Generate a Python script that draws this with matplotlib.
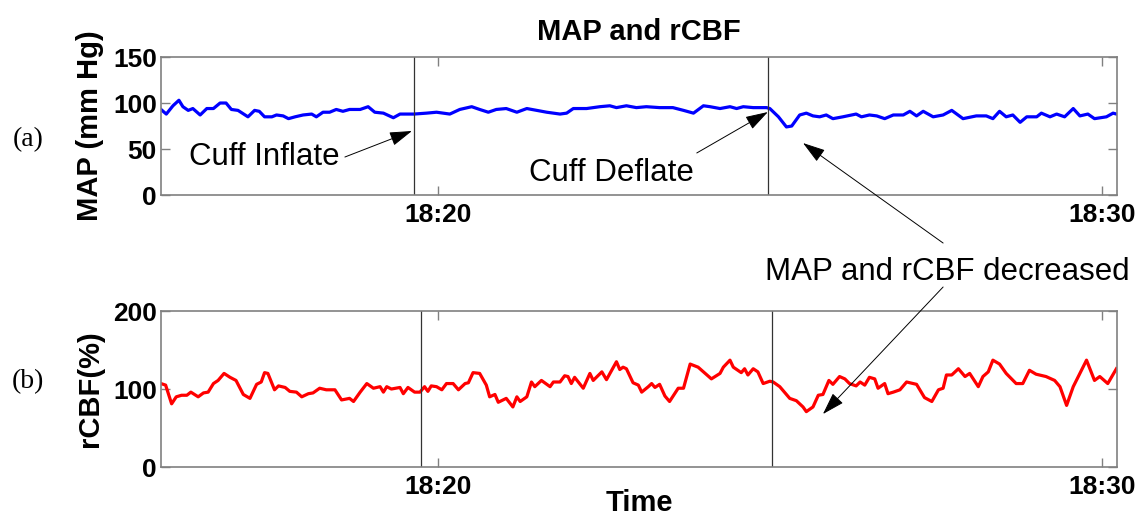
import matplotlib
matplotlib.use("Agg")
import matplotlib.pyplot as plt

# time axis in minutes after 18:00
map_time = [15.83, 15.91, 16.01, 16.10, 16.16, 16.24, 16.31, 16.42, 16.52, 16.62,
            16.72, 16.81, 16.89, 16.99, 17.14, 17.24, 17.31, 17.39, 17.50, 17.57,
            17.67, 17.75, 17.85, 17.97, 18.10, 18.17, 18.27, 18.37, 18.47, 18.57,
            18.67, 18.83, 18.95, 19.05, 19.18, 19.33, 19.43, 19.64, 19.83, 19.98,
            20.18, 20.33, 20.51, 20.63, 20.76, 20.88, 21.03, 21.19, 21.34, 21.49,
            21.64, 21.84, 21.94, 22.04, 22.24, 22.44, 22.59, 22.69, 22.84, 22.99,
            23.14, 23.34, 23.54, 23.70, 23.85, 24.00, 24.10, 24.25, 24.40, 24.50,
            24.60, 24.75, 24.95, 25.00, 25.13, 25.25, 25.33, 25.45, 25.55, 25.65,
            25.75, 25.85, 25.95, 26.10, 26.30, 26.38, 26.50, 26.61, 26.73, 26.86,
            27.01, 27.11, 27.21, 27.31, 27.46, 27.61, 27.74, 27.91, 28.11, 28.26,
            28.36, 28.46, 28.56, 28.66, 28.77, 28.87, 29.02, 29.09, 29.22, 29.32,
            29.44, 29.57, 29.67, 29.79, 29.89, 30.07, 30.17, 30.22]
map_values = [93, 88, 97, 103, 96, 92, 94, 87, 94, 94,
              100, 100, 93, 92, 85, 92, 91, 85, 85, 87,
              86, 83, 85, 87, 88, 85, 90, 90, 93, 91,
              93, 93, 96, 90, 89, 84, 88, 88, 89, 90,
              88, 93, 96, 93, 90, 93, 94, 90, 94, 92,
              90, 88, 89, 94, 94, 96, 97, 95, 97, 95,
              96, 95, 95, 92, 89, 97, 96, 94, 96, 94,
              96, 95, 95, 94, 85, 74, 75, 87, 89, 86,
              85, 87, 83, 85, 88, 85, 87, 86, 83, 87,
              87, 91, 86, 91, 85, 87, 92, 83, 86, 86,
              83, 91, 85, 87, 79, 85, 85, 89, 85, 88,
              85, 94, 86, 88, 83, 85, 89, 88]

cbf_time = [15.83, 15.90, 15.99, 16.06, 16.14, 16.22, 16.28, 16.39, 16.47, 16.54,
            16.62, 16.69, 16.78, 16.87, 16.96, 17.07, 17.17, 17.27, 17.34, 17.39,
            17.44, 17.54, 17.60, 17.70, 17.77, 17.87, 17.95, 18.05, 18.12, 18.22,
            18.32, 18.45, 18.55, 18.67, 18.73, 18.83, 18.93, 19.03, 19.13, 19.18,
            19.23, 19.30, 19.43, 19.48, 19.55, 19.65, 19.73, 19.80, 19.85, 19.90,
            19.98, 20.06, 20.13, 20.23, 20.31, 20.41, 20.46, 20.53, 20.63, 20.73,
            20.78, 20.86, 20.91, 21.03, 21.13, 21.19, 21.24, 21.34, 21.41, 21.46,
            21.56, 21.69, 21.74, 21.84, 21.91, 21.96, 22.01, 22.06, 22.19, 22.29,
            22.34, 22.47, 22.54, 22.69, 22.74, 22.79, 22.84, 22.94, 23.02, 23.07,
            23.17, 23.22, 23.27, 23.34, 23.42, 23.49, 23.62, 23.70, 23.80, 23.92,
            24.12, 24.25, 24.30, 24.40, 24.45, 24.57, 24.62, 24.67, 24.75, 24.82,
            24.90, 25.00, 25.05, 25.15, 25.30, 25.40, 25.50, 25.55, 25.65, 25.73,
            25.80, 25.89, 25.95, 26.05, 26.13, 26.20, 26.30, 26.36, 26.43, 26.50,
            26.58, 26.63, 26.73, 26.78, 26.86, 26.96, 27.06, 27.21, 27.33, 27.44,
            27.54, 27.61, 27.66, 27.74, 27.84, 27.94, 28.01, 28.14, 28.21, 28.29,
            28.36, 28.46, 28.56, 28.71, 28.81, 28.91, 29.01, 29.16, 29.29, 29.37,
            29.47, 29.57, 29.67, 29.77, 29.89, 29.97, 30.09, 30.22]
cbf_values = [107, 105, 81, 90, 92, 92, 96, 90, 95, 96,
              107, 111, 120, 115, 111, 93, 88, 106, 109, 121,
              120, 99, 104, 102, 97, 96, 90, 94, 95, 101,
              99, 99, 86, 88, 84, 96, 107, 101, 103, 96,
              103, 100, 102, 94, 102, 96, 96, 103, 97, 104,
              103, 99, 107, 107, 99, 107, 108, 121, 120, 105,
              90, 93, 83, 88, 77, 90, 84, 90, 109, 103,
              111, 103, 109, 109, 117, 116, 107, 115, 101, 120,
              111, 122, 112, 135, 125, 128, 126, 108, 105, 96,
              103, 107, 102, 106, 91, 84, 101, 101, 132, 128,
              113, 120, 128, 137, 128, 121, 126, 118, 126, 122,
              107, 110, 109, 103, 88, 85, 77, 71, 77, 92,
              93, 111, 106, 116, 113, 107, 104, 109, 105, 115,
              113, 101, 107, 94, 96, 99, 109, 106, 89, 84,
              99, 101, 118, 118, 126, 116, 120, 103, 116, 122,
              137, 132, 120, 107, 107, 124, 119, 116, 111, 103,
              79, 103, 120, 137, 111, 116, 107, 126]

# cuff inflate / deflate markers (minutes after 18:00)
map_events = [19.64, 24.98]
cbf_events = [19.74, 25.04]

x_ticks = [20, 30]
x_tick_labels = ["18:20", "18:30"]
map_ticks = [0, 50, 100, 150]
cbf_ticks = [0, 100, 200]

plt.rcParams["font.family"] = ["Liberation Sans", "DejaVu Sans"]

fig = plt.figure(figsize=(11.45, 5.17), dpi=100)
ax1 = fig.add_axes([0.1406, 0.6228, 0.835, 0.2669])
ax2 = fig.add_axes([0.1406, 0.0967, 0.835, 0.3017])

spine_gray = "#808080"
for ax in (ax1, ax2):
    ax.set_xlim(15.83, 30.23)
    ax.set_xticks(x_ticks)
    ax.set_xticklabels(x_tick_labels, fontweight="bold")
    ax.tick_params(direction="in", length=6.5, width=1, colors=spine_gray,
                   labelcolor="black", labelsize=19, top=True, right=True, pad=6)
    ax.tick_params(axis="y", pad=3)
    for sp in ax.spines.values():
        sp.set_color(spine_gray)
        sp.set_linewidth(1.2)

# (a) MAP
ax1.plot(map_time, map_values, color="#0000ff", lw=2.3)
for t in map_events:
    ax1.axvline(t, color="#333333", lw=0.9)
ax1.set_ylim(0, 150)
ax1.set_yticks(map_ticks)
ax1.set_yticklabels([str(v) for v in map_ticks], fontweight="bold")
ax1.set_ylabel("MAP (mm Hg)", fontsize=21, fontweight="bold")
ax1.yaxis.set_label_coords(-0.06, 0.5)
ax1.set_title("MAP and rCBF", fontsize=21, fontweight="bold", pad=12)

# (b) rCBF
ax2.plot(cbf_time, cbf_values, color="#ff0000", lw=2.3)
for t in cbf_events:
    ax2.axvline(t, color="#333333", lw=0.9)
ax2.set_ylim(0, 200)
ax2.set_yticks(cbf_ticks)
ax2.set_yticklabels([str(v) for v in cbf_ticks], fontweight="bold")
ax2.set_ylabel("rCBF(%)", fontsize=21, fontweight="bold")
ax2.yaxis.set_label_coords(-0.06, 0.5)
ax2.set_xlabel("Time", fontsize=21, fontweight="bold")
ax2.xaxis.set_label_coords(0.5, -0.14)

# annotations
arrow = dict(arrowstyle="-|>,head_length=0.7,head_width=0.22", color="black",
             lw=0.7, mutation_scale=20, shrinkA=0, shrinkB=0)
ax1.text(17.39, 41, "Cuff Inflate", fontsize=22.5, ha="center", va="center")
ax1.annotate("", xy=(19.61, 69.6), xytext=(18.60, 41.3), arrowprops=arrow)
ax1.text(22.61, 24, "Cuff Deflate", fontsize=22.5, ha="center", va="center")
ax1.annotate("", xy=(24.97, 90.2), xytext=(23.90, 45.7), arrowprops=arrow)
ax1.annotate("", xy=(25.50, 56.5), xytext=(27.61, -52.2), arrowprops=arrow,
             annotation_clip=False)
ax2.annotate("", xy=(25.80, 67.9), xytext=(27.61, 230.8), arrowprops=arrow,
             annotation_clip=False)
ax2.text(27.67, 250, "MAP and rCBF decreased", fontsize=22.5, ha="center",
         va="center", clip_on=False)

fig.text(28 / 1145, 1 - 140 / 517, "(a)", fontsize=20, family="Liberation Serif",
         ha="center", va="center")
fig.text(28 / 1145, 1 - 382 / 517, "(b)", fontsize=20, family="Liberation Serif",
         ha="center", va="center")

fig.savefig("out.png", dpi=100)
